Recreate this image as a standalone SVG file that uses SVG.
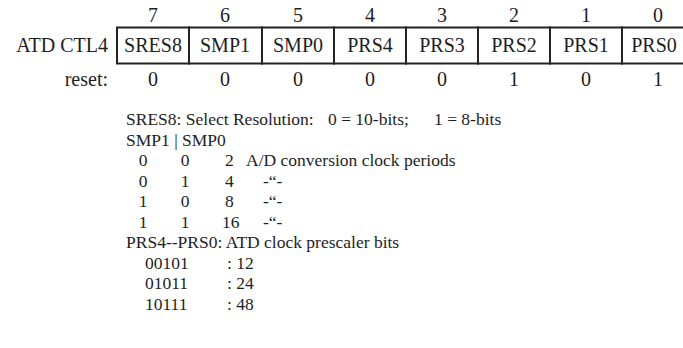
<svg xmlns="http://www.w3.org/2000/svg" width="683" height="348" viewBox="0 0 683 348">
<style>
text{font-family:"Liberation Serif","Times New Roman",serif;fill:#1e1e1e}
.h{font-size:20px}
.c{text-anchor:middle}
.r{text-anchor:end}
.d{font-size:17.5px}
.cell{fill:#fff;stroke:#222;stroke-width:2}
</style>
<rect width="683" height="348" fill="#fff"/>
<g id="bit-numbers">
<text class="h c" x="153" y="22">7</text>
<text class="h c" x="225" y="22">6</text>
<text class="h c" x="298" y="22">5</text>
<text class="h c" x="370" y="22">4</text>
<text class="h c" x="442" y="22">3</text>
<text class="h c" x="514" y="22">2</text>
<text class="h c" x="586" y="22">1</text>
<text class="h c" x="658" y="22">0</text>
</g>
<g id="register-label">
<text class="h r" x="108" y="52">ATD CTL4</text>
</g>
<g id="register">
<rect class="cell" x="117" y="27.5" width="72" height="36"/>
<rect class="cell" x="189" y="27.5" width="73" height="36"/>
<rect class="cell" x="262" y="27.5" width="72" height="36"/>
<rect class="cell" x="334" y="27.5" width="72" height="36"/>
<rect class="cell" x="406" y="27.5" width="72" height="36"/>
<rect class="cell" x="478" y="27.5" width="72" height="36"/>
<rect class="cell" x="550" y="27.5" width="72" height="36"/>
<rect class="cell" x="622" y="27.5" width="72" height="36"/>
<text class="h c" x="153" y="52">SRES8</text>
<text class="h c" x="225" y="52">SMP1</text>
<text class="h c" x="298" y="52">SMP0</text>
<text class="h c" x="370" y="52">PRS4</text>
<text class="h c" x="442" y="52">PRS3</text>
<text class="h c" x="514" y="52">PRS2</text>
<text class="h c" x="586" y="52">PRS1</text>
<text class="h c" x="654" y="52">PRS0</text>
</g>
<g id="reset">
<text class="h r" x="108" y="86">reset:</text>
<text class="h c" x="153" y="86">0</text>
<text class="h c" x="225" y="86">0</text>
<text class="h c" x="298" y="86">0</text>
<text class="h c" x="370" y="86">0</text>
<text class="h c" x="442" y="86">0</text>
<text class="h c" x="514" y="86">1</text>
<text class="h c" x="586" y="86">0</text>
<text class="h c" x="658" y="86">1</text>
</g>
<g id="description">
<text class="d" x="126" y="125">SRES8: Select Resolution:</text>
<text class="d" x="328" y="125">0 = 10-bits;</text>
<text class="d" x="434" y="125">1 = 8-bits</text>
<text class="d" x="126" y="145.5">SMP1 | SMP0</text>
<text class="d c" x="143" y="166">0</text><text class="d c" x="185" y="166">0</text><text class="d" x="225" y="166">2</text><text class="d" x="246" y="166">A/D conversion clock periods</text>
<text class="d c" x="143" y="186.5">0</text><text class="d c" x="185" y="186.5">1</text><text class="d" x="225" y="186.5">4</text><text class="d" x="263" y="186.5">-“-</text>
<text class="d c" x="143" y="207">1</text><text class="d c" x="185" y="207">0</text><text class="d" x="225" y="207">8</text><text class="d" x="263" y="207">-“-</text>
<text class="d c" x="143" y="227.5">1</text><text class="d c" x="185" y="227.5">1</text><text class="d" x="222" y="227.5">16</text><text class="d" x="263" y="227.5">-“-</text>
<text class="d" x="126" y="248">PRS4--PRS0: ATD clock prescaler bits</text>
<text class="d" x="145" y="268.5">00101</text><text class="d" x="227" y="268.5">: 12</text>
<text class="d" x="145" y="289">01011</text><text class="d" x="227" y="289">: 24</text>
<text class="d" x="145" y="309.5">10111</text><text class="d" x="227" y="309.5">: 48</text>
</g>
</svg>
